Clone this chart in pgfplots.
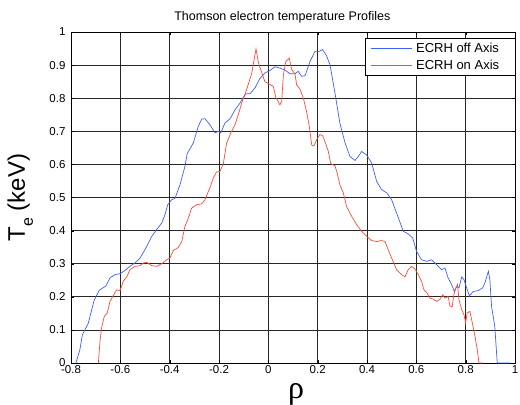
\documentclass[border=0pt]{standalone}
\usepackage{pgfplots}
\pgfplotsset{compat=1.18}
\usepackage{fontspec}
\setmainfont{Liberation Sans}
\newfontfamily\greekserif{Liberation Serif}
\definecolor{offblue}{RGB}{60,95,255}
\definecolor{onred}{RGB}{255,75,55}
\newcommand{\legtext}[1]{\makebox[92bp][l]{\fontsize{13bp}{15bp}\selectfont #1}}
\begin{document}
\begin{tikzpicture}
\path[use as bounding box] (-71bp,-42bp) rectangle (449bp,363bp);
\begin{axis}[
  at={(0,0)}, anchor=south west,
  scale only axis, width=444bp, height=331bp,
  xmin=-0.8, xmax=1, ymin=0, ymax=1,
  xtick={-0.8,-0.6,-0.4,-0.2,0,0.2,0.4,0.6,0.8,1},
  ytick={0,0.1,0.2,0.3,0.4,0.5,0.6,0.7,0.8,0.9,1},
  xticklabels={-0.8,-0.6,-0.4,-0.2,0,0.2,0.4,0.6,0.8,1},
  yticklabels={0,0.1,0.2,0.3,0.4,0.5,0.6,0.7,0.8,0.9,1},
  grid=major, major grid style={black!85, line width=0.8bp},
  axis line style={black, line width=0.9bp},
  tick style={black}, tick align=inside, major tick length=3bp,
  ticklabel style={font=\fontsize{11.5bp}{13bp}\selectfont},
  xticklabel style={yshift=1bp},
  yticklabel style={xshift=-2bp},
  every axis title shift=0pt,
  title={Thomson electron temperature Profiles},
  title style={font=\fontsize{12.5bp}{14bp}\selectfont, at={(axis description cs:0.476,1.043)}, anchor=center},
  xlabel={\greekserif ρ},
  xlabel style={font=\fontsize{32bp}{34bp}\selectfont, at={(axis description cs:0.507,-0.096)}, anchor=center},
  ylabel={T\raisebox{-8bp}{\fontsize{16bp}{16bp}\selectfont e} (keV)},
  ylabel style={font=\fontsize{24bp}{26bp}\selectfont, at={(axis description cs:-0.1036,0.50)}, anchor=base},
  legend cell align=left,
  legend style={at={(axis description cs:0.662,0.982)}, anchor=north west, draw=black, line width=0.9bp,
    inner xsep=5bp, inner ysep=2.5bp, row sep=2bp, column sep=2bp, nodes={inner sep=2bp}},
  legend image code/.code={\draw[#1] (0bp,0bp) -- (41bp,0bp);},
]
\addplot[offblue, line width=0.7bp] coordinates {
(-0.78,0) (-0.764,0.04) (-0.754,0.085) (-0.73,0.12) (-0.706,0.19) (-0.685,0.22) (-0.658,0.233) (-0.642,0.257) (-0.622,0.267) (-0.6,0.27) (-0.581,0.28) (-0.561,0.292) (-0.541,0.302) (-0.52,0.317) (-0.493,0.352) (-0.473,0.382) (-0.453,0.403) (-0.432,0.423) (-0.419,0.448) (-0.408,0.478) (-0.392,0.493) (-0.378,0.498) (-0.358,0.539) (-0.338,0.594) (-0.329,0.632) (-0.304,0.665) (-0.284,0.715) (-0.27,0.737) (-0.257,0.738) (-0.237,0.72) (-0.216,0.695) (-0.203,0.70) (-0.193,0.695) (-0.176,0.725) (-0.155,0.738) (-0.135,0.765) (-0.115,0.785) (-0.104,0.80) (-0.091,0.813) (-0.074,0.814) (-0.054,0.831) (-0.034,0.86) (-0.014,0.876) (0.007,0.884) (0.027,0.895) (0.047,0.891) (0.067,0.885) (0.088,0.874) (0.108,0.874) (0.121,0.881) (0.135,0.866) (0.149,0.868) (0.169,0.911) (0.189,0.941) (0.202,0.94) (0.22,0.947) (0.236,0.928) (0.25,0.901) (0.27,0.816) (0.29,0.725) (0.311,0.665) (0.331,0.624) (0.351,0.612) (0.365,0.624) (0.378,0.639) (0.398,0.629) (0.419,0.604) (0.439,0.549) (0.459,0.524) (0.48,0.514) (0.5,0.493) (0.52,0.453) (0.547,0.398) (0.567,0.39) (0.585,0.378) (0.601,0.337) (0.621,0.312) (0.642,0.307) (0.662,0.312) (0.682,0.297) (0.702,0.282) (0.716,0.287) (0.729,0.257) (0.743,0.237) (0.754,0.216) (0.763,0.231) (0.773,0.227) (0.784,0.26) (0.793,0.252) (0.804,0.227) (0.815,0.203) (0.831,0.216) (0.851,0.219) (0.869,0.227) (0.878,0.242) (0.892,0.277) (0.898,0.252) (0.905,0.171) (0.918,0.111) (0.928,0) (0.98,0)
};
\addlegendentry{\legtext{ECRH off Axis}}
\addplot[onred, line width=0.7bp] coordinates {
(-0.689,0) (-0.682,0.07) (-0.676,0.106) (-0.665,0.141) (-0.653,0.151) (-0.642,0.186) (-0.629,0.203) (-0.615,0.221) (-0.601,0.219) (-0.588,0.247) (-0.574,0.26) (-0.561,0.282) (-0.541,0.292) (-0.52,0.294) (-0.507,0.302) (-0.493,0.304) (-0.473,0.294) (-0.453,0.292) (-0.432,0.3) (-0.412,0.312) (-0.399,0.317) (-0.385,0.34) (-0.365,0.349) (-0.351,0.367) (-0.338,0.413) (-0.324,0.438) (-0.311,0.468) (-0.291,0.478) (-0.27,0.481) (-0.257,0.493) (-0.237,0.529) (-0.223,0.559) (-0.21,0.577) (-0.196,0.579) (-0.182,0.604) (-0.169,0.665) (-0.149,0.70) (-0.135,0.72) (-0.122,0.75) (-0.108,0.785) (-0.088,0.826) (-0.067,0.876) (-0.05,0.949) (-0.041,0.911) (-0.034,0.893) (-0.014,0.85) (0.007,0.841) (0.02,0.836) (0.03,0.803) (0.047,0.78) (0.054,0.79) (0.061,0.87) (0.071,0.911) (0.085,0.921) (0.094,0.888) (0.108,0.873) (0.115,0.84) (0.128,0.828) (0.142,0.8) (0.155,0.76) (0.166,0.715) (0.176,0.658) (0.185,0.656) (0.196,0.675) (0.209,0.69) (0.22,0.687) (0.23,0.668) (0.243,0.64) (0.253,0.602) (0.27,0.596) (0.279,0.574) (0.29,0.539) (0.304,0.514) (0.311,0.493) (0.317,0.473) (0.338,0.443) (0.358,0.418) (0.378,0.398) (0.398,0.383) (0.419,0.37) (0.439,0.367) (0.459,0.37) (0.473,0.367) (0.486,0.342) (0.5,0.317) (0.52,0.282) (0.54,0.267) (0.554,0.26) (0.567,0.282) (0.581,0.292) (0.594,0.284) (0.608,0.267) (0.621,0.247) (0.631,0.221) (0.642,0.213) (0.655,0.196) (0.669,0.193) (0.682,0.186) (0.696,0.193) (0.707,0.206) (0.716,0.196) (0.729,0.201) (0.736,0.173) (0.745,0.169) (0.752,0.206) (0.759,0.224) (0.767,0.237) (0.773,0.191) (0.784,0.161) (0.793,0.146) (0.8,0.121) (0.806,0.151) (0.817,0.156) (0.827,0.121) (0.838,0.08) (0.847,0.04) (0.854,0) (0.871,0)
};
\addlegendentry{\legtext{ECRH on Axis}}
\end{axis}
\end{tikzpicture}
\end{document}
